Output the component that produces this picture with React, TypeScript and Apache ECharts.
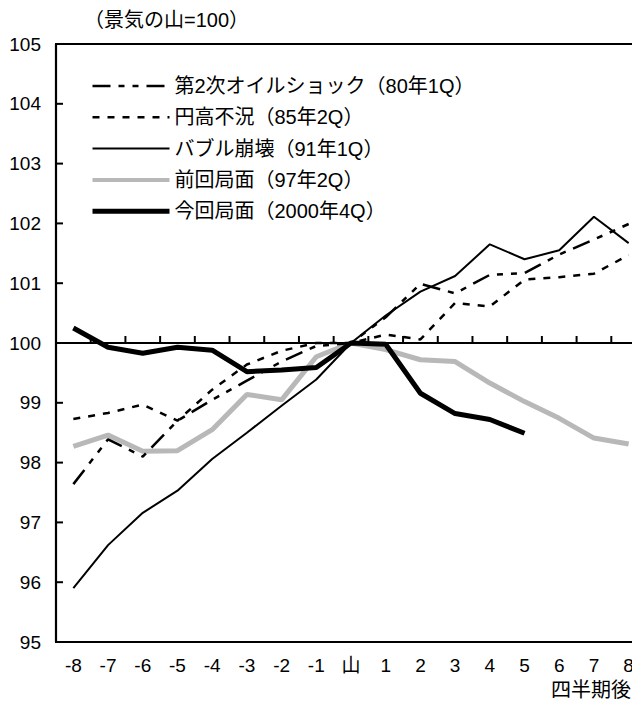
import React, { useEffect, useRef } from "react";
import * as echarts from "echarts";

const categories = ["-8", "-7", "-6", "-5", "-4", "-3", "-2", "-1", "山", "1", "2", "3", "4", "5", "6", "7", "8"];
const yTicks = [95, 96, 97, 98, 99, 100, 101, 102, 103, 104, 105];
const baseline = 100;

const oilShock = [97.64, 98.39, 98.10, 98.70, 99.05, 99.37, 99.69, 99.95, 100, 100.43, 100.99, 100.83, 101.14, 101.17, 101.48, 101.73, 101.99];
const yenHigh = [98.73, 98.83, 98.97, 98.70, 99.22, 99.64, 99.87, 100.0, 100, 100.14, 100.06, 100.67, 100.61, 101.06, 101.10, 101.16, 101.47];
const bubble = [95.90, 96.62, 97.16, 97.53, 98.06, 98.50, 98.95, 99.39, 100, 100.46, 100.86, 101.12, 101.65, 101.40, 101.55, 102.11, 101.67];
const previous = [98.27, 98.46, 98.19, 98.20, 98.55, 99.14, 99.05, 99.77, 100, 99.89, 99.72, 99.69, 99.33, 99.02, 98.74, 98.41, 98.31];
const current = [100.25, 99.93, 99.83, 99.93, 99.88, 99.52, 99.55, 99.59, 100, 99.98, 99.16, 98.82, 98.72, 98.49, null, null, null];

const names = [
  "第2次オイルショック（80年1Q）",
  "円高不況（85年2Q）",
  "バブル崩壊（91年1Q）",
  "前回局面（97年2Q）",
  "今回局面（2000年4Q）",
];

const FONT = "'Liberation Sans', 'Noto Sans CJK JP', sans-serif";
const TICK_COLOR = "#000";

const styles = {
  oil: { color: "#000", width: 2.5, type: [18, 8, 6, 8, 6, 8] as number[] },
  yen: { color: "#000", width: 2.5, type: [7, 8] as number[] },
  bubble: { color: "#000", width: 2, type: "solid" },
  prev: { color: "#b8b8b8", width: 5, type: "solid" },
  cur: { color: "#000", width: 5, type: "solid" },
};

export default function App() {
  const ref = useRef<HTMLDivElement>(null);
  useEffect(() => {
    if (!ref.current) return;
    const chart = echarts.init(ref.current, undefined, { renderer: "svg" });
    const chartW = 680;
    const legendStyles = [styles.oil, styles.yen, styles.bubble, { ...styles.prev, width: 4 }, styles.cur];
    chart.setOption({
      animation: false,
      backgroundColor: "#fff",
      title: {
        text: "（景気の山=100）",
        left: 84,
        top: 10,
        padding: 0,
        textStyle: { fontSize: 20, lineHeight: 20, fontWeight: "normal", fontFamily: FONT, color: "#000" },
      },
      legend: {
        orient: "vertical",
        left: 90,
        top: 76,
        padding: 0,
        itemWidth: 77,
        itemHeight: 14,
        itemGap: 11.3,
        data: names.map((n, i) => ({ name: n, lineStyle: { ...legendStyles[i] } })),
        itemStyle: { opacity: 0 },
        textStyle: { fontSize: 20, lineHeight: 20, fontFamily: FONT, color: "#000" },
      },
      grid: {
        left: 56,
        top: 44,
        right: chartW - 646,
        bottom: 66,
        show: true,
        borderColor: "#000",
        borderWidth: 2,
      },
      xAxis: [
        {
          type: "category",
          data: categories,
          position: "bottom",
          offset: -299,
          axisLine: { lineStyle: { color: "#000", width: 2.2 } },
          axisTick: { show: false },
          axisLabel: { show: false, interval: 0 },
          splitLine: { show: false },
        },
        {
          type: "category",
          data: categories,
          position: "bottom",
          offset: 0,
          axisLine: { lineStyle: { color: "#000", width: 2.2 } },
          axisTick: { show: false },
          axisLabel: { fontSize: 19, margin: 14, color: "#000", fontFamily: FONT, interval: 0 },
          splitLine: { show: false },
        },
      ],
      yAxis: {
        type: "value",
        min: yTicks[0],
        max: yTicks[yTicks.length - 1],
        interval: 1,
        axisLine: { show: true, lineStyle: { color: "#000", width: 2.2 } },
        axisTick: { show: false },
        axisLabel: { fontSize: 19, margin: 15, color: "#000", fontFamily: FONT },
        splitLine: { show: false },
      },
      graphic: [
        {
          type: "text",
          left: 551,
          top: 680,
          style: { text: "四半期後", fontSize: 20, fontFamily: FONT, fill: "#000" },
        },
      ],
      series: [
        { name: names[3], type: "line", data: previous, symbol: "none", lineStyle: styles.prev, itemStyle: { color: styles.prev.color } },
        { name: names[0], type: "line", data: oilShock, symbol: "none", lineStyle: styles.oil, itemStyle: { color: "#000" } },
        { name: names[1], type: "line", data: yenHigh, symbol: "none", lineStyle: styles.yen, itemStyle: { color: "#000" } },
        { name: names[2], type: "line", data: bubble, symbol: "none", lineStyle: styles.bubble, itemStyle: { color: "#000" } },
        { name: names[4], type: "line", data: current, symbol: "none", lineStyle: styles.cur, itemStyle: { color: "#000" } },
        {
          type: "custom",
          silent: true,
          clip: false,
          z: 1,
          data: yTicks.map((v) => [0, v]),
          renderItem: (params: any, api: any) => {
            const cs = params.coordSys;
            const y = api.coord([api.value(0), api.value(1)])[1];
            return {
              type: "line",
              shape: { x1: cs.x, y1: y, x2: cs.x + 7, y2: y },
              style: { stroke: TICK_COLOR, lineWidth: 2 },
            };
          },
        },
        {
          type: "custom",
          silent: true,
          clip: false,
          z: 1,
          data: categories.map((c, i) => [i, baseline]).slice(1),
          renderItem: (params: any, api: any) => {
            const pt = api.coord([api.value(0), api.value(1)]);
            const bw = api.size([1, 0])[0];
            const x = pt[0] - bw / 2;
            return {
              type: "line",
              shape: { x1: x, y1: pt[1], x2: x, y2: pt[1] - 7 },
              style: { stroke: TICK_COLOR, lineWidth: 2 },
            };
          },
        },
      ],
    });
    return () => chart.dispose();
  }, []);
  return (
    <div style={{ position: "fixed", left: 0, top: 0, width: 632, height: 708, overflow: "hidden", background: "#fff" }}>
      <div ref={ref} style={{ width: 680, height: 708 }} />
    </div>
  );
}
